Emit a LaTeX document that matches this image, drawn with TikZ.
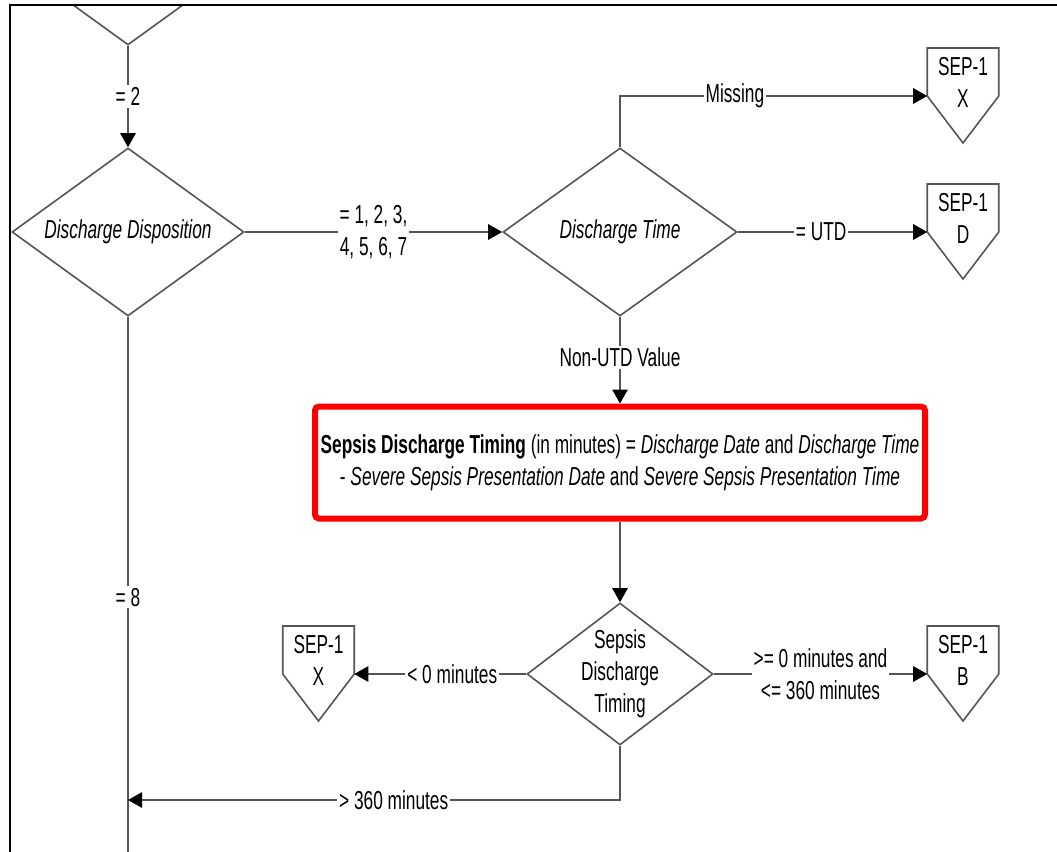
\documentclass[tikz,border=0pt]{standalone}
\usepackage{fontspec}
\setmainfont{Liberation Sans}[FakeStretch=0.665]
\usepackage{tikz}
\usetikzlibrary{shapes.geometric, arrows.meta, positioning, calc}
\definecolor{linegray}{HTML}{555555}
\definecolor{boxred}{HTML}{FF0000}

\begin{document}
\begin{tikzpicture}[
    x=0.75pt, y=-0.75pt,
    every node/.style={font=\fontsize{19.5}{24}\selectfont},
    decision/.style={diamond, draw=linegray, line width=1.2pt, aspect=1.38, inner sep=0pt, align=center},
    calcbox/.style={rectangle, draw=boxred, line width=4.5pt, rounded corners=3pt, minimum width=457.5pt, minimum height=84pt, align=center},
    offpage/.style={rectangle, minimum width=53.25pt, inner sep=0pt, align=center},
    offpageline/.style={draw=linegray, line width=1.2pt},
    lbl/.style={fill=white, inner sep=1.5pt, align=center},
    flowline/.style={draw=linegray, line width=1.3pt},
    flow/.style={flowline, -{Triangle[length=10.5pt, width=11.5pt, color=black]}}
]
\useasboundingbox (0,0) rectangle (1057,852);

% previous decision, cut off by the page
\begin{scope}
    \clip (10,5) rectangle (1057,852);
    \node[decision, minimum width=174pt, minimum height=126pt] (prevdec) at (128,-39) {};
\end{scope}

\node[decision, minimum width=174pt, minimum height=126pt] (dd) at (128,232) {\itshape Discharge Disposition};
\node[decision, minimum width=175.5pt, minimum height=126pt] (dtime) at (620,232) {\itshape Discharge Time};
\node[calcbox] (sdtcalc) at (620,462.5) {\textbf{Sepsis Discharge Timing} (in minutes) = \textit{Discharge Date} and \textit{Discharge Time}\\
    - \textit{Severe Sepsis Presentation Date} and \textit{Severe Sepsis Presentation Time}};
\node[decision, minimum width=139.5pt, minimum height=106.5pt, inner sep=-4pt] (sdt) at (620,674) {Sepsis\\Discharge\\Timing};

% off-page connectors
\node[offpage] (sepxa) at (963,82) {SEP-1\\X};
\node[offpage] (sepd) at (963,218) {SEP-1\\D};
\node[offpage] (sepxb) at (318.5,660) {SEP-1\\X};
\node[offpage] (sepb) at (963,660) {SEP-1\\B};
\foreach \p in {sepxa,sepd,sepxb,sepb}
    \draw[offpageline] ([yshift=25.5pt]\p.west) -- ([yshift=-10.5pt]\p.west) -- ([yshift=-45.75pt]\p.center)
        -- ([yshift=-10.5pt]\p.east) -- ([yshift=25.5pt]\p.east) -- cycle;

\coordinate (ddexit) at (128,852);
\coordinate (ddmerge) at (128,800);

\draw[flow] (prevdec.south) -- node[lbl] {= 2} (dd.north);
\draw[flow] (dd.east) -- node[lbl] {= 1, 2, 3,\\4, 5, 6, 7} (dtime.west);
\draw[flow] (dtime.north) |- node[lbl, pos=0.687] {Missing} ([yshift=-10.5pt]sepxa.west);
\draw[flow] (dtime.east) -- node[lbl, pos=0.44] {= UTD} ([yshift=-10.5pt]sepd.west);
\draw[flow] (dtime.south) -- node[lbl, pos=0.47] {Non-UTD Value} (sdtcalc.north);
\draw[flow] (sdtcalc.south) -- (sdt.north);
\draw[flow] (sdt.west) -- node[lbl, pos=0.43] {< 0 minutes} ([yshift=-10.5pt]sepxb.east);
\draw[flow] (sdt.east) -- node[lbl] {>= 0 minutes and\\<= 360 minutes} ([yshift=-10.5pt]sepb.west);
\draw[flowline] (dd.south) -- node[lbl, pos=0.524] {= 8} (ddexit);
\draw[flow] (sdt.south) |- node[lbl, pos=0.73] {> 360 minutes} (ddmerge);

% page frame
\draw[line width=2.2pt] (10,852) -- (10,5) -- (1057,5);
\end{tikzpicture}
\end{document}
